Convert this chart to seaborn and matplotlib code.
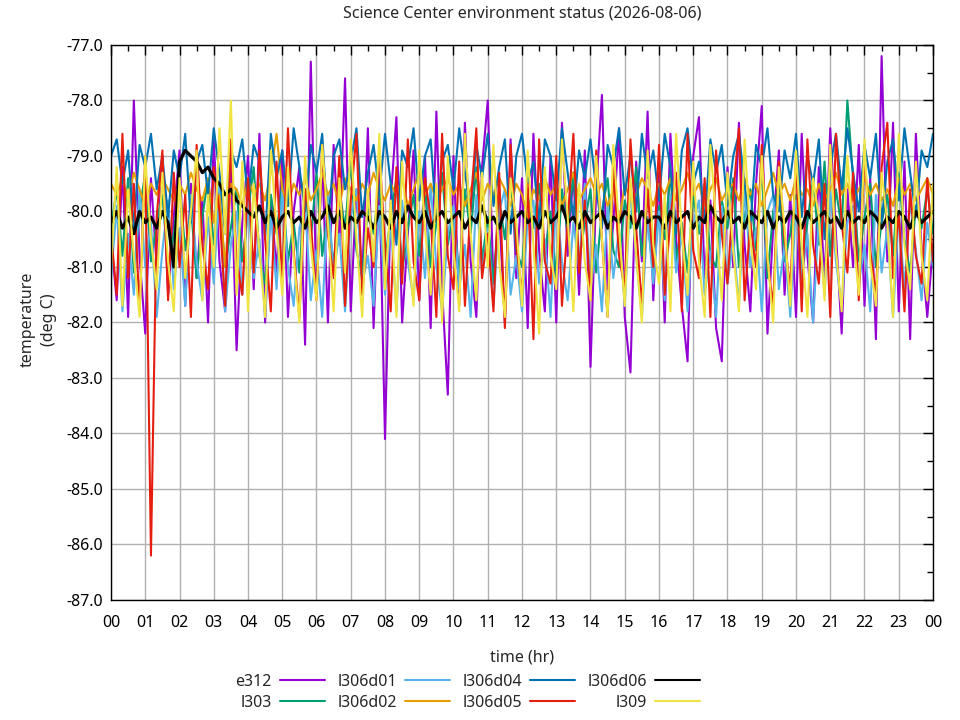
import numpy as np
import pandas as pd
import matplotlib
matplotlib.use("Agg")
import matplotlib.pyplot as plt
import seaborn as sns
from matplotlib.ticker import MultipleLocator, FixedLocator, FixedFormatter

# readings every 10 minutes, 00:00 .. 24:00 (deg C)
e312 = [-80.5, -81.6, -79.2, -81.9, -78.0, -80.8, -82.2, -79.4, -81.0, -79.0, -81.5, -80.1,
        -78.9, -81.7, -79.5, -81.2, -79.8, -82.0, -78.7, -80.9, -81.8, -79.1, -82.5, -80.2,
        -79.0, -81.4, -78.6, -82.0, -79.7, -81.1, -78.9, -81.9, -80.0, -79.2, -82.4, -77.3,
        -81.5, -79.1, -82.0, -78.8, -80.6, -77.6, -81.8, -79.6, -81.2, -78.5, -82.1, -79.3,
        -84.1, -79.8, -78.3, -82.0, -80.4, -78.9, -81.6, -79.0, -82.1, -78.2, -81.4, -83.3,
        -79.0, -81.7, -78.4, -80.9, -81.9, -79.2, -78.0, -81.3, -80.0, -82.0, -78.7, -81.2,
        -79.4, -82.1, -78.6, -80.7, -81.8, -79.0, -82.0, -78.4, -80.8, -79.3, -81.5, -78.9,
        -82.8, -79.6, -77.9, -81.4, -80.2, -78.5, -81.9, -82.9, -79.1, -80.9, -78.2, -81.6,
        -79.3, -82.0, -78.6, -80.5, -81.7, -82.7, -79.0, -78.3, -81.2, -79.8, -82.1, -82.7,
        -79.2, -81.0, -78.4, -80.6, -81.8, -79.5, -78.1, -82.2, -80.3, -78.9, -81.5, -79.7,
        -81.9, -78.6, -80.8, -82.0, -79.2, -81.3, -78.5, -80.4, -82.2, -79.6, -81.0, -78.8,
        -81.7, -79.4, -82.3, -77.2, -80.9, -78.4, -81.8, -79.1, -82.3, -78.6, -80.7, -81.9,
        -80.6]

l303 = [-80.3, -79.6, -80.8, -79.4, -81.1, -80.0, -79.3, -80.9, -80.2, -79.7, -81.0, -80.4,
        -79.5, -80.7, -79.9, -81.2, -80.1, -79.4, -80.6, -79.8, -81.0, -80.3, -79.6, -80.9,
        -80.0, -79.2, -80.8, -81.3, -79.7, -80.4, -79.5, -80.9, -80.2, -81.1, -79.6, -80.5,
        -79.3, -80.8, -80.0, -81.0, -79.6, -80.3, -79.1, -80.7, -81.2, -79.9, -80.4, -79.5,
        -80.9, -80.1, -79.4, -81.1, -80.3, -79.7, -80.8, -79.5, -81.0, -80.2, -79.3, -80.6,
        -80.0, -81.2, -79.6, -80.4, -79.2, -80.9, -80.1, -81.3, -79.8, -80.5, -79.4, -80.7,
        -81.0, -79.7, -80.3, -79.5, -80.8, -80.0, -81.2, -79.6, -80.4, -79.3, -80.9, -80.2,
        -79.6, -81.1, -80.0, -79.4, -80.7, -81.0, -79.8, -80.3, -79.2, -80.8, -80.1, -81.2,
        -79.9, -80.5, -79.3, -80.9, -80.2, -81.1, -79.7, -80.4, -79.5, -80.8, -81.0, -79.8,
        -80.3, -79.4, -81.0, -80.1, -79.6, -80.7, -79.2, -81.2, -80.0, -79.5, -80.9, -80.4,
        -79.7, -81.1, -80.2, -79.4, -80.6, -79.1, -80.8, -79.6, -80.3, -78.0, -79.4, -80.9,
        -80.1, -79.5, -81.0, -80.2, -79.7, -80.8, -79.3, -80.5, -81.1, -79.9, -80.3, -79.6,
        -80.4]

l306d01 = [-81.2, -79.9, -81.8, -80.4, -81.5, -79.6, -81.0, -80.2, -81.9, -80.7, -79.8, -81.4,
           -80.3, -81.7, -79.7, -80.9, -81.6, -80.1, -81.3, -79.5, -81.8, -80.6, -80.0, -81.5,
           -79.8, -81.2, -80.5, -81.9, -80.0, -81.4, -79.6, -81.0, -81.7, -80.3, -79.9, -81.6,
           -80.7, -81.9, -79.7, -81.1, -80.4, -81.8, -80.1, -79.6, -81.3, -80.8, -81.7, -79.9,
           -81.5, -80.2, -81.8, -79.8, -80.9, -81.6, -80.0, -81.2, -79.5, -81.0, -81.8, -80.4,
           -79.9, -81.4, -80.6, -81.9, -79.7, -81.1, -80.3, -81.7, -80.0, -79.6, -81.5, -80.8,
           -81.8, -80.1, -79.8, -81.3, -80.5, -81.9, -79.7, -80.9, -81.6, -80.2, -81.0, -79.5,
           -81.4, -80.6, -81.8, -79.9, -81.2, -80.3, -81.7, -79.6, -80.8, -81.9, -80.1, -81.3,
           -80.0, -81.6, -79.7, -81.1, -80.4, -81.8, -80.2, -79.8, -81.5, -80.7, -81.9, -79.9,
           -81.3, -80.5, -81.7, -79.6, -81.0, -80.3, -81.8, -80.0, -79.7, -81.4, -80.6, -81.9,
           -79.8, -81.2, -80.4, -82.0, -80.1, -81.5, -79.6, -80.9, -81.7, -80.2, -79.9, -81.3,
           -80.6, -81.8, -79.7, -81.1, -80.3, -81.9, -80.0, -81.4, -79.8, -80.7, -81.6, -80.2,
           -81.0]

l306d02 = [-79.5, -79.7, -79.4, -79.8, -79.3, -79.6, -79.9, -79.5, -79.7, -79.4, -79.6, -79.8,
           -79.5, -79.7, -79.3, -79.6, -79.8, -79.4, -80.2, -79.7, -81.0, -79.5, -79.6, -79.9,
           -79.4, -79.7, -79.5, -79.8, -79.3, -78.6, -79.6, -79.9, -79.5, -79.7, -79.4, -79.8,
           -79.6, -79.3, -79.7, -79.5, -79.9, -79.4, -79.6, -79.8, -79.5, -79.7, -79.3, -79.6,
           -79.8, -79.5, -79.7, -79.4, -79.9, -79.6, -79.3, -79.7, -79.5, -79.8, -79.6, -79.4,
           -79.7, -79.5, -79.9, -79.6, -79.3, -79.8, -79.5, -79.7, -79.4, -79.6, -79.9, -79.5,
           -79.7, -80.1, -79.6, -79.8, -79.4, -79.7, -79.5, -79.9, -79.6, -79.3, -79.8, -79.6,
           -79.4, -79.7, -79.5, -79.9, -79.6, -80.2, -79.5, -79.8, -79.7, -79.4, -79.6, -79.9,
           -79.5, -79.7, -79.4, -79.8, -79.6, -79.3, -79.7, -79.5, -79.9, -79.6, -79.4, -79.8,
           -79.6, -79.5, -79.8, -79.4, -79.7, -79.5, -79.9, -79.6, -79.3, -79.7, -79.5, -79.8,
           -79.4, -79.7, -79.6, -79.9, -79.5, -79.8, -79.6, -79.3, -79.7, -79.5, -79.8, -79.6,
           -79.4, -79.7, -79.5, -79.8, -79.6, -79.9, -79.4, -79.7, -79.5, -79.8, -79.6, -79.4,
           -79.7]

l306d04 = [-79.0, -78.7, -79.5, -78.9, -80.3, -78.8, -79.2, -78.6, -79.6, -79.0, -80.1, -78.9,
           -79.4, -78.6, -80.2, -79.1, -78.8, -79.7, -78.5, -79.3, -80.4, -78.9, -79.2, -78.7,
           -79.8, -78.8, -79.1, -80.5, -78.6, -79.4, -78.9, -79.9, -78.5, -79.2, -80.0, -78.8,
           -79.3, -78.6, -80.3, -79.0, -78.7, -79.6, -79.1, -78.5, -80.1, -79.3, -78.8, -79.7,
           -78.6, -79.5, -80.6, -78.9, -79.2, -78.5, -79.8, -79.0, -78.7, -80.2, -79.1, -78.8,
           -79.6, -78.5, -79.3, -80.0, -78.8, -79.4, -78.6, -79.9, -79.2, -78.7, -80.4, -79.0,
           -78.6, -79.5, -79.1, -80.2, -78.7, -79.0, -79.8, -78.5, -79.3, -80.1, -78.9, -79.4,
           -78.7, -79.6, -80.3, -78.8, -79.2, -78.5, -79.7, -79.0, -80.0, -78.6, -79.4, -78.9,
           -79.8, -78.6, -79.2, -80.4, -78.9, -78.5, -79.5, -79.1, -80.2, -78.7, -79.3, -78.8,
           -79.9, -79.0, -78.6, -79.5, -80.3, -78.8, -79.2, -78.5, -79.7, -80.0, -78.9, -79.4,
           -78.6, -80.1, -79.0, -79.5, -78.7, -80.5, -79.2, -78.6, -79.6, -78.5, -79.3, -80.0,
           -78.8, -79.4, -78.6, -80.2, -79.1, -78.7, -79.8, -78.5, -79.3, -80.1, -78.9, -79.2,
           -78.6]

l306d05 = [-80.4, -81.5, -78.6, -81.2, -79.5, -81.8, -79.0, -86.2, -80.1, -78.9, -81.6, -79.3,
           -81.0, -79.7, -81.9, -78.8, -80.6, -81.4, -79.2, -80.0, -81.7, -78.7, -80.9, -81.5,
           -79.4, -81.1, -78.9, -80.5, -81.8, -79.1, -81.3, -78.5, -80.7, -81.9, -79.6, -80.2,
           -81.6, -78.8, -80.4, -81.2, -79.0, -81.7, -79.8, -78.6, -81.5, -80.3, -81.0, -78.9,
           -80.6, -81.8, -79.2, -81.3, -78.7, -80.9, -81.6, -79.4, -80.1, -81.9, -78.6, -80.8,
           -81.4, -79.1, -81.7, -79.9, -78.5, -81.2, -80.4, -81.8, -79.3, -82.1, -78.8, -80.6,
           -81.5, -79.5, -82.3, -78.7, -80.9, -81.3, -79.0, -81.7, -80.2, -78.6, -81.1, -79.8,
           -81.6, -78.9, -80.5, -81.9, -79.2, -80.8, -81.4, -78.7, -80.3, -81.7, -79.6, -81.0,
           -78.8, -81.5, -80.1, -79.3, -81.8, -78.6, -80.7, -81.2, -79.4, -81.9, -78.9, -80.4,
           -81.3, -79.7, -78.5, -81.6, -80.2, -81.0, -78.8, -80.9, -81.7, -79.1, -80.5, -81.4,
           -79.0, -81.8, -78.7, -80.6, -81.3, -79.5, -81.9, -78.6, -80.2, -81.1, -79.3, -81.6,
           -78.9, -80.7, -81.5, -79.2, -78.4, -81.2, -80.0, -81.8, -79.6, -80.8, -81.3, -79.4,
           -80.9]

l306d06 = [-80.2, -80.0, -80.3, -80.1, -80.4, -80.0, -80.2, -80.1, -80.3, -80.0, -80.2, -81.0,
           -79.1, -78.9, -79.0, -79.1, -79.3, -79.2, -79.4, -79.5, -79.7, -79.6, -79.8, -79.9,
           -80.0, -80.1, -79.9, -80.2, -80.0, -80.3, -80.1, -80.0, -80.2, -80.1, -80.3, -80.0,
           -80.2, -80.1, -79.9, -80.2, -80.0, -80.3, -80.1, -80.2, -80.0, -80.1, -80.3, -80.0,
           -80.1, -80.3, -80.0, -80.2, -79.9, -80.1, -80.2, -80.0, -80.3, -80.1, -80.0, -80.2,
           -80.1, -80.0, -80.3, -80.1, -80.2, -79.9, -80.2, -80.1, -80.3, -80.0, -80.2, -80.1,
           -80.0, -80.2, -80.1, -80.3, -80.0, -80.2, -80.1, -79.9, -80.2, -80.1, -80.3, -80.0,
           -80.2, -80.1, -80.0, -80.3, -80.1, -80.2, -80.0, -80.1, -80.3, -80.0, -80.2, -80.1,
           -80.1, -80.3, -80.0, -80.2, -80.1, -80.0, -80.3, -80.1, -80.2, -79.9, -80.1, -80.2,
           -80.0, -80.2, -80.1, -80.3, -80.0, -80.1, -80.2, -80.0, -80.3, -80.1, -80.2, -80.0,
           -80.1, -80.3, -80.0, -80.2, -80.1, -80.0, -80.2, -80.1, -80.3, -80.0, -80.2, -80.1,
           -80.2, -80.0, -80.1, -80.3, -80.1, -80.2, -80.0, -80.1, -80.3, -80.0, -80.2, -80.1,
           -80.0]

l309 = [-81.0, -79.2, -81.7, -79.6, -80.8, -81.9, -79.0, -80.5, -81.4, -79.3, -80.9, -81.8,
        -79.4, -81.2, -80.0, -78.9, -81.6, -79.7, -81.0, -78.5, -80.4, -78.0, -81.5, -79.1,
        -81.8, -79.5, -80.7, -81.9, -78.9, -80.3, -81.5, -79.2, -80.8, -82.0, -79.0, -80.6,
        -81.6, -78.8, -80.2, -81.8, -79.4, -81.1, -78.7, -80.5, -81.9, -79.6, -80.9, -78.6,
        -81.4, -79.8, -81.9, -79.1, -80.6, -81.7, -78.9, -80.3, -81.5, -79.5, -82.0, -79.0,
        -80.7, -81.8, -78.6, -80.4, -81.6, -79.3, -81.0, -78.8, -80.9, -81.9, -79.4, -80.2,
        -81.7, -78.9, -80.6, -82.2, -79.2, -80.8, -81.4, -78.7, -80.1, -81.8, -79.5, -80.9,
        -81.6, -79.0, -80.5, -81.9, -78.8, -80.3, -81.7, -79.4, -80.8, -82.0, -78.9, -80.6,
        -81.3, -79.7, -81.8, -78.6, -80.4, -81.5, -79.1, -80.9, -81.9, -78.8, -80.2, -81.6,
        -79.3, -80.7, -81.8, -78.7, -80.5, -81.4, -79.0, -80.8, -82.0, -79.2, -80.3, -81.7,
        -78.9, -80.6, -81.9, -79.4, -80.1, -81.6, -78.8, -80.7, -81.8, -79.0, -80.4, -81.5,
        -78.7, -80.9, -81.7, -79.3, -80.2, -81.9, -78.6, -80.6, -81.4, -79.1, -80.8, -81.6,
        -79.5]

sensors = ["e312", "l303", "l306d01", "l306d02", "l306d04", "l306d05", "l306d06", "l309"]
series = [e312, l303, l306d01, l306d02, l306d04, l306d05, l306d06, l309]
colors = ["#9400d3", "#009e73", "#56b4e9", "#e69f00", "#0072b2", "#e51e10", "#000000", "#f0e442"]
hour_labels = ["%02d" % h for h in range(24)] + ["00"]

frames = []
for name, vals in zip(sensors, series):
    hrs = np.arange(len(vals)) / 6.0
    frames.append(pd.DataFrame({"hour": hrs, "temp": vals, "sensor": name}))
df = pd.concat(frames, ignore_index=True)

sns.set_theme(style="white")
plt.rcParams["font.family"] = ["Noto Sans", "DejaVu Sans"]
FS = 11.5

fig = plt.figure(figsize=(9.6, 7.2), dpi=100)
ax = fig.add_axes([111 / 960, 1 - 600 / 720, 822 / 960, 555 / 720])

sns.lineplot(data=df, x="hour", y="temp", hue="sensor", hue_order=sensors,
             palette=dict(zip(sensors, colors)), estimator=None, sort=False,
             linewidth=1.5, ax=ax)
# the black trace is a dense band in the original
ax.get_lines()[6].set_linewidth(2.3)

ax.set_xlim(0, 24)
ax.set_ylim(-87, -77)
ax.xaxis.set_major_locator(FixedLocator(range(25)))
ax.xaxis.set_major_formatter(FixedFormatter(hour_labels))
ax.xaxis.set_minor_locator(MultipleLocator(0.5))
ax.yaxis.set_major_locator(MultipleLocator(1))
ax.yaxis.set_minor_locator(MultipleLocator(0.5))
ax.yaxis.set_major_formatter(matplotlib.ticker.FormatStrFormatter("%.1f"))
ax.tick_params(which="both", direction="in", top=True, right=True, color="black",
               labelsize=FS, labelcolor="black")
ax.tick_params(which="major", length=7, width=1)
ax.tick_params(which="minor", length=4, width=1)
ax.tick_params(axis="x", which="major", pad=11)
ax.tick_params(axis="y", which="major", pad=6)
ax.grid(True, which="major", color="#b0b0b0", linewidth=1)
ax.set_axisbelow(True)
for sp in ax.spines.values():
    sp.set_color("black")
    sp.set_linewidth(1)

ax.set_xlabel("time (hr)", fontsize=FS, labelpad=13)
ax.set_ylabel("temperature\n(deg C)", fontsize=FS, rotation=90, linespacing=1.4)
ax.yaxis.set_label_coords(-0.066, 0.505)
ax.set_title("Science Center environment status (2026-08-06)", fontsize=FS, pad=20)

handles, labels = ax.get_legend_handles_labels()
ax.legend(handles, labels, ncol=4, markerfirst=False, frameon=False,
          loc="upper center", bbox_to_anchor=(0.434, -0.133), fontsize=FS,
          borderaxespad=0, borderpad=0,
          handlelength=2.8, columnspacing=0.8, labelspacing=0.3, handletextpad=0.5)

fig.savefig("out.png", dpi=100)
